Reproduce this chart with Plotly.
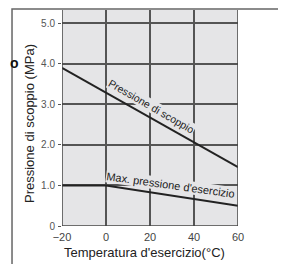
import plotly.graph_objects as go

temp_burst = [-20, 60]
burst = [3.9, 1.45]
temp_max = [-20, 0, 60]
maxp = [1.0, 1.0, 0.5]
y_ticks = [0, 1, 2, 3, 4, 5]
y_labels = ["0", "1.0", "2.0", "3.0", "4.0", "5.0"]
x_ticks = [-20, 0, 20, 40, 60]
x_labels = ["\u221220", "0", "20", "40", "60"]

fig = go.Figure()
fig.add_trace(go.Scatter(x=temp_burst, y=burst, mode="lines",
                         line=dict(color="#222222", width=2), showlegend=False))
fig.add_trace(go.Scatter(x=temp_max, y=maxp, mode="lines",
                         line=dict(color="#222222", width=2), showlegend=False))

font = "Liberation Sans, Arial, sans-serif"
bg = "#e5e5e7"
fig.update_layout(
    width=278, height=256,
    margin=dict(l=54, r=48, t=2, b=38, pad=0),
    paper_bgcolor="white", plot_bgcolor=bg,
    font=dict(family=font, size=10, color="#333333"),
    xaxis=dict(range=[-20, 60], tickvals=x_ticks, ticktext=x_labels,
               showgrid=True, gridcolor="#555555", gridwidth=1.5,
               zeroline=False, showline=False, ticks="", fixedrange=True,
               ticklabelstandoff=3,
               tickfont=dict(size=11, color="#444444")),
    yaxis=dict(range=[0, 5.33], tickvals=y_ticks, ticktext=y_labels,
               showgrid=True, gridcolor="#555555", gridwidth=1.5,
               zeroline=False, showline=False, ticks="outside", ticklen=3,
               tickcolor="#555555", fixedrange=True, ticklabelstandoff=1,
               tickfont=dict(size=10, color="#555555")),
)

# axis lines (left, bottom, right)
fig.add_shape(type="line", xref="x", yref="paper", x0=-20, x1=-20, y0=0, y1=1,
              line=dict(color="#444444", width=1.5))
fig.add_shape(type="line", xref="x", yref="paper", x0=60, x1=60, y0=0, y1=1,
              line=dict(color="#444444", width=1.5))
fig.add_shape(type="line", xref="paper", yref="y", x0=0, x1=1, y0=0, y1=0,
              line=dict(color="#444444", width=1.5))
# outer box
fig.add_shape(type="rect", xref="paper", yref="paper", x0=-0.284, x1=1.239,
              y0=-0.3, y1=1.005, line=dict(color="#666666", width=1.5))

fig.add_annotation(x=20.5, y=2.96, xref="x", yref="y", text="Pressione di scoppio",
                   showarrow=False, textangle=30, bgcolor=bg, borderpad=0,
                   font=dict(size=10.5, color="#222222"))
fig.add_annotation(x=29.5, y=1.02, xref="x", yref="y", text="Max. pressione d'esercizio",
                   showarrow=False, textangle=8, bgcolor=bg, borderpad=0,
                   font=dict(size=11, color="#222222"))
fig.add_annotation(x=-0.1875, y=0.5, xref="paper", yref="paper", xanchor="center",
                   yanchor="middle", yshift=-6,
                   text="Pressione di scoppio (MPa)", showarrow=False, textangle=-90,
                   font=dict(size=13, color="#222222"))
fig.add_annotation(x=0.47, y=-0.122, xref="paper", yref="paper", xanchor="center",
                   yanchor="middle",
                   text="Temperatura d'esercizio(\u00b0C)", showarrow=False,
                   font=dict(size=13, color="#222222"))
fig.add_annotation(x=-0.307, y=0.755, xref="paper", yref="paper", xanchor="left",
                   yanchor="middle",
                   text="<b>o</b>", showarrow=False,
                   font=dict(size=14, color="#111111"))

fig.write_html("out.html")
